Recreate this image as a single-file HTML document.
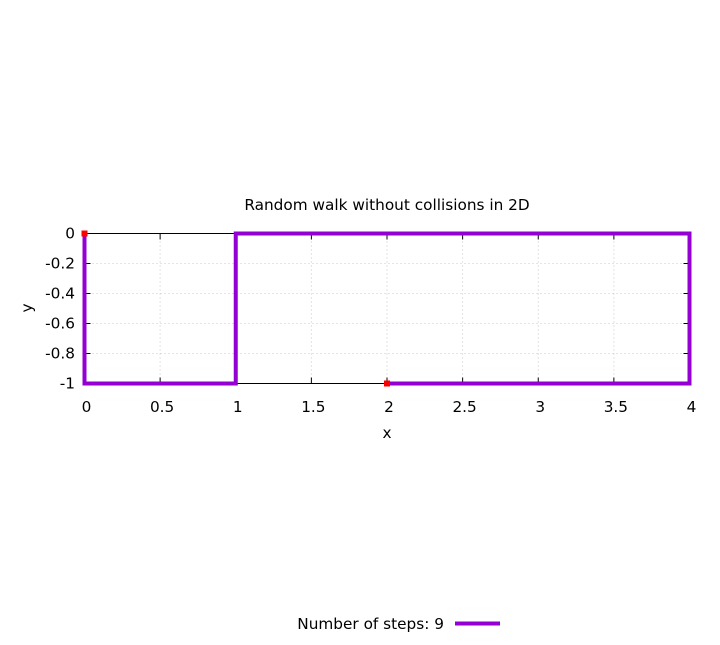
<!DOCTYPE html>
<html><head><meta charset="utf-8"><style>
body{margin:0;background:#fff;}
svg text{font-family:"DejaVu Sans","Liberation Sans",sans-serif;font-size:15.3px;fill:#000;}
</style></head><body>
<svg width="720" height="640" viewBox="0 0 720 640">
<rect width="720" height="640" fill="#fff"/>
<g id="grid"></g>
<rect x="84.5" y="233.5" width="605" height="150" fill="none" stroke="#000" stroke-width="1"/>
<g id="ticks"></g>
<polyline id="walk" fill="none" stroke="#9400d3" stroke-width="4" stroke-linejoin="miter"/>
<g id="markers"></g>
<text x="387" y="210" text-anchor="middle">Random walk without collisions in 2D</text>
<text x="387" y="438" text-anchor="middle">x</text>
<text x="32" y="308" text-anchor="middle" transform="rotate(-90 32 308)">y</text>
<g>
<text x="444" y="629" text-anchor="end">Number of steps: 9</text>
<line x1="455" y1="623.5" x2="500" y2="623.5" stroke="#9400d3" stroke-width="4"/>
</g>
</svg>
<script>
const xs=[0,0,1,1,2,3,4,4,3,2];
const ys=[0,-1,-1,0,0,0,0,-1,-1,-1];
const xTicks=[0,0.5,1,1.5,2,2.5,3,3.5,4];
const xTickLabels=["0","0.5","1","1.5","2","2.5","3","3.5","4"];
const yTicks=[0,-0.2,-0.4,-0.6,-0.8,-1];
const yTickLabels=["0","-0.2","-0.4","-0.6","-0.8","-1"];
const NS="http://www.w3.org/2000/svg";
const X=v=>84.5+(v-0)/4*605;
const Y=v=>233.5+(0-v)/1*150;
const grid=document.getElementById('grid'),ticks=document.getElementById('ticks');
function mk(tag,attrs,parent){const e=document.createElementNS(NS,tag);for(const k in attrs)e.setAttribute(k,attrs[k]);parent.appendChild(e);return e;}
xTicks.forEach((t,i)=>{
 const g=mk('line',{x1:X(t),x2:X(t),y1:233.5,y2:383.5,stroke:'#c8c8c8','stroke-width':1,'stroke-dasharray':'1,3'},grid);
 
 
 const a=mk('line',{x1:X(t),x2:X(t),y1:383.5,y2:377.5,stroke:'#000'},ticks);
 
 
 const b=mk('line',{x1:X(t),x2:X(t),y1:233.5,y2:239.5,stroke:'#000'},ticks);
 
 
 const tx=mk('text',{x:X(t)+2,y:412,'text-anchor':'middle'},ticks);tx.textContent=xTickLabels[i];
 
 
});
yTicks.forEach((t,i)=>{
 const g=mk('line',{x1:84.5,x2:689.5,y1:Y(t),y2:Y(t),stroke:'#c8c8c8','stroke-width':1,'stroke-dasharray':'1,3'},grid);
 
 
 const a=mk('line',{x1:84.5,x2:90.5,y1:Y(t),y2:Y(t),stroke:'#000'},ticks);
 
 
 const b=mk('line',{x1:689.5,x2:683.5,y1:Y(t),y2:Y(t),stroke:'#000'},ticks);
 
 
 const tx=mk('text',{x:75,y:Y(t)+5,'text-anchor':'end'},ticks);tx.textContent=yTickLabels[i];
 
 
});
document.getElementById('walk').setAttribute('points',xs.map((v,i)=>X(v)+','+Y(ys[i])).join(' '));
const mks=document.getElementById('markers');
[0,xs.length-1].forEach(i=>{
 const r=mk('rect',{x:X(xs[i])-3,y:Y(ys[i])-3,width:6,height:6,fill:'#ff0000'},mks);
 
 
});
</script>
</body></html>
